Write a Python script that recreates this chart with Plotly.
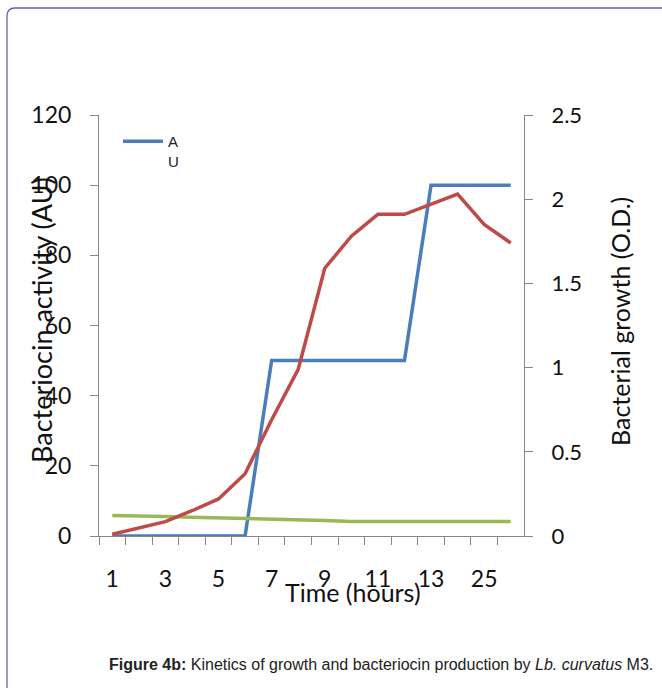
import plotly.graph_objects as go

W, H = 662, 688

# ---- data ----
time_hours = ["1", "2", "3", "4", "5", "6", "7", "8", "9", "10", "11", "12", "13", "24", "25", "26"]
bacteriocin_au = [0, 0, 0, 0, 0, 0, 50, 50, 50, 50, 50, 50, 100, 100, 100, 100]
growth_od = [0.01, 0.05, 0.085, 0.15, 0.22, 0.37, 0.69, 0.99, 1.59, 1.78, 1.91, 1.91, 1.97, 2.03, 1.85, 1.74]
ph_values = [5.85, 5.8, 5.55, 5.35, 5.2, 4.9, 4.7, 4.6, 4.4, 4.15, 4.15, 4.15, 4.15, 4.15, 4.15, 4.15]
shown_labels = ["1", "3", "5", "7", "9", "11", "13", "25"]
tick_text = [t if t in shown_labels else "" for t in time_hours]

BLUE = "#4a7ebb"
RED = "#be4b48"
GREEN = "#98b954"
AXIS = "#868686"
AXFONT = "Lato"


def px_x(x):
    return x / W


def px_y(y):
    return 1 - y / H


x0, x1 = 99, 524
y_top, y_bot = 115, 536

fig = go.Figure()
fig.add_trace(go.Scatter(x=time_hours, y=bacteriocin_au, mode="lines", name="A<br>U",
                         line=dict(color=BLUE, width=3.5), yaxis="y"))
fig.add_trace(go.Scatter(x=time_hours, y=ph_values, mode="lines", name="pH",
                         line=dict(color=GREEN, width=3.5), yaxis="y", showlegend=False))
fig.add_trace(go.Scatter(x=time_hours, y=growth_od, mode="lines", name="O.D.",
                         line=dict(color=RED, width=3.5), yaxis="y2", showlegend=False))

fig.update_layout(
    width=W, height=H,
    margin=dict(l=0, r=0, t=0, b=0),
    paper_bgcolor="white", plot_bgcolor="white",
    showlegend=True,
    legend=dict(x=px_x(118), y=px_y(125), xanchor="left", yanchor="top",
                font=dict(family="Liberation Sans", size=15, color="#222"),
                bgcolor="rgba(0,0,0,0)", valign="top", itemwidth=40),
    xaxis=dict(domain=[px_x(x0), px_x(x1)], type="category",
               categoryorder="array", categoryarray=time_hours,
               range=[-0.5, len(time_hours) - 0.5],
               tickmode="array", tickvals=time_hours, ticktext=tick_text, tickangle=0,
               tickson="boundaries", ticks="outside", ticklen=8, tickcolor=AXIS,
               showline=True, linecolor=AXIS, linewidth=1, showgrid=False, zeroline=False,
               tickfont=dict(family=AXFONT, size=23, color="#111"),
               ticklabelstandoff=22, automargin=False, anchor="y"),
    yaxis=dict(domain=[px_y(y_bot), px_y(y_top)], range=[0, 120], dtick=20,
               ticks="outside", ticklen=8, tickcolor=AXIS,
               showline=True, linecolor=AXIS, linewidth=1, showgrid=False, zeroline=False,
               tickfont=dict(family=AXFONT, size=23, color="#111"),
               ticklabelstandoff=14, automargin=False, anchor="x"),
    yaxis2=dict(domain=[px_y(y_bot), px_y(y_top)], range=[0, 2.5], dtick=0.5,
                overlaying="y", side="right", anchor="x",
                ticks="outside", ticklen=8, tickcolor=AXIS,
                showline=True, linecolor=AXIS, linewidth=1, showgrid=False, zeroline=False,
                tickfont=dict(family=AXFONT, size=22, color="#111"),
                ticklabelstandoff=14, automargin=False),
)

# axis titles
fig.add_annotation(x=px_x(353), y=px_y(592), xref="paper", yref="paper", showarrow=False,
                   xanchor="center", yanchor="middle",
                   text="Time (hours)", font=dict(family=AXFONT, size=25, color="#111"))
fig.add_annotation(x=px_x(42), y=px_y(320), xref="paper", yref="paper", showarrow=False,
                   xanchor="center", yanchor="middle",
                   text="Bacteriocin activity (AU)", textangle=-90,
                   font=dict(family=AXFONT, size=27, color="#111"))
fig.add_annotation(x=px_x(620), y=px_y(322), xref="paper", yref="paper", showarrow=False,
                   xanchor="center", yanchor="middle",
                   text="Bacterial growth (O.D.)", textangle=-90,
                   font=dict(family=AXFONT, size=25, color="#111"))

# caption
fig.add_annotation(x=px_x(107), y=px_y(664), xref="paper", yref="paper", showarrow=False,
                   xanchor="left", yanchor="middle",
                   text="<b>Figure 4b:</b> Kinetics of growth and bacteriocin production by <i>Lb. curvatus</i> M3.",
                   font=dict(family="Liberation Sans", size=16, color="#222"))

# rounded frame (top-left corner)
r = 8
bx, by = 7, 8
path = (f"M {px_x(bx)},{px_y(H + 5)} L {px_x(bx)},{px_y(by + r)} "
        f"Q {px_x(bx)},{px_y(by)} {px_x(bx + r)},{px_y(by)} L {px_x(W + 5)},{px_y(by)}")
fig.add_shape(type="path", path=path, xref="paper", yref="paper",
              line=dict(color="#6464a6", width=1.3))

fig.write_html("out.html")
